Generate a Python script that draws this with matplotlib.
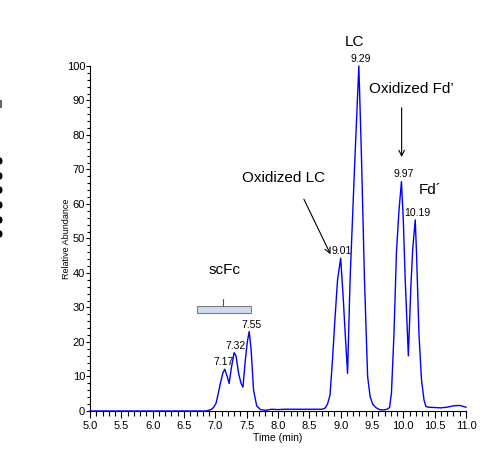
import matplotlib
matplotlib.use("Agg")
import matplotlib.pyplot as plt
from matplotlib.ticker import MultipleLocator, FormatStrFormatter
from matplotlib.patches import Rectangle, Ellipse

plt.rcParams['font.family'] = ['Liberation Sans', 'DejaVu Sans']

# Chromatogram trace (time in min, relative abundance %)
time_min = [5.0, 5.5, 6.0, 6.5, 6.85, 6.93, 6.97, 7.01, 7.04, 7.08, 7.12, 7.15,
            7.19, 7.22, 7.26, 7.30, 7.33, 7.37, 7.41, 7.44, 7.48, 7.51, 7.54,
            7.57, 7.61, 7.66, 7.72, 7.80, 7.90, 8.00, 8.10, 8.30, 8.50, 8.70,
            8.75, 8.79, 8.83, 8.87, 8.91, 8.95, 9.00, 9.04, 9.08, 9.11, 9.15,
            9.22, 9.29, 9.33, 9.38, 9.43, 9.47, 9.51, 9.56, 9.62, 9.68, 9.74,
            9.78, 9.81, 9.85, 9.89, 9.93, 9.97, 10.00, 10.03, 10.08, 10.12,
            10.15, 10.19, 10.21, 10.25, 10.29, 10.33, 10.36, 10.40, 10.50,
            10.60, 10.70, 10.80, 10.90, 11.00]
abundance = [0.0, 0.0, 0.0, 0.0, 0.0, 0.4, 1.0, 2.2, 4.5, 8.0, 11.0, 12.1,
             10.0, 8.0, 13.0, 16.9, 16.0, 11.0, 8.0, 6.9, 15.0, 20.0, 23.0,
             18.0, 6.0, 1.5, 0.4, 0.2, 0.5, 0.4, 0.5, 0.5, 0.5, 0.5,
             0.8, 2.0, 4.6, 15.0, 27.0, 38.0, 44.3, 33.0, 20.0, 10.9, 38.0,
             70.0, 100.0, 75.0, 38.0, 10.0, 4.2, 2.0, 1.0, 0.4, 0.3, 0.5,
             1.0, 5.1, 22.0, 46.0, 58.0, 66.5, 55.0, 38.0, 16.0, 36.0,
             47.0, 55.4, 46.0, 22.0, 9.0, 3.2, 1.3, 1.1, 1.0,
             0.9, 1.1, 1.5, 1.6, 1.1]

# Peak labels
peak_times = [7.17, 7.32, 7.55, 9.01, 9.29, 9.97, 10.19]
peak_heights = [12.1, 16.9, 23.0, 44.3, 100.0, 66.5, 55.4]
peak_label_x = [7.13, 7.32, 7.57, 9.02, 9.32, 10.0, 10.23]

fig = plt.figure(figsize=(5.04, 4.69), dpi=100)
ax = fig.add_axes([0.1786, 0.1237, 0.746, 0.7356])

ax.plot(time_min, abundance, color='#0000ff', lw=1.0, clip_on=False, zorder=3)

ax.set_xlim(5.0, 11.0)
ax.set_ylim(0, 100)
for s in ['top', 'right']:
    ax.spines[s].set_visible(False)
for s in ['left', 'bottom']:
    ax.spines[s].set_linewidth(0.8)

ax.xaxis.set_major_locator(MultipleLocator(0.5))
ax.xaxis.set_minor_locator(MultipleLocator(0.1))
ax.yaxis.set_major_locator(MultipleLocator(10))
ax.yaxis.set_minor_locator(MultipleLocator(2))
ax.xaxis.set_major_formatter(FormatStrFormatter('%.1f'))
ax.tick_params(axis='x', which='major', length=5, width=0.8, labelsize=8, pad=2.5)
ax.tick_params(axis='x', which='minor', length=3.5, width=0.8)
ax.tick_params(axis='y', which='major', length=3, width=0.8, labelsize=8, pad=0.5)
ax.tick_params(axis='y', which='minor', length=2, width=0.8)

ax.set_xlabel('Time (min)', fontsize=7.5, labelpad=1.5)
ax.set_ylabel('Relative Abundance', fontsize=6.5, labelpad=-3)

for xl, yv, pt in zip(peak_label_x, peak_heights, peak_times):
    ax.text(xl, yv + 0.6, f'{pt:.2f}', fontsize=7.5, ha='center', va='bottom',
            clip_on=False)

# Annotations
ax.text(9.228, 107, 'LC', fontsize=11, ha='center', va='center', clip_on=False)
ax.text(10.133, 93.2, 'Oxidized Fd\u2019', fontsize=11, ha='center', va='center')
ax.annotate('', xy=(9.973, 72.8), xytext=(9.973, 88.7),
            arrowprops=dict(arrowstyle='->', color='black', lw=0.8))
ax.text(10.425, 64.1, 'Fd\u00b4', fontsize=11, ha='center', va='center')
ax.text(8.084, 67.4, 'Oxidized LC', fontsize=11, ha='center', va='center')
ax.annotate('', xy=(8.857, 44.7), xytext=(8.394, 62.1),
            arrowprops=dict(arrowstyle='->', color='black', lw=0.8))
ax.text(7.154, 40.9, 'scFc', fontsize=11, ha='center', va='center')

# Bracket over scFc
ax.add_patch(Rectangle((6.712, 28.5), 7.569 - 6.712, 2.0, facecolor='#cfdcef',
                       edgecolor='#7f7f7f', lw=0.8, zorder=2))
ax.plot([7.127, 7.127], [30.5, 32.5], color='#555555', lw=0.8)

# Clipped fragment at far left edge (edge of a neighbouring panel)
for py in [161, 176, 190, 205, 220, 234]:
    fig.patches.append(Ellipse((0.0, 1 - py / 469), 5 / 504, 7 / 469,
                               transform=fig.transFigure, facecolor='black',
                               edgecolor='none'))
fig.patches.append(Rectangle((0.0, 1 - 108 / 469), 2 / 504, 8 / 469,
                             transform=fig.transFigure, facecolor='#666666',
                             edgecolor='none'))

fig.savefig('out.png', dpi=100)
